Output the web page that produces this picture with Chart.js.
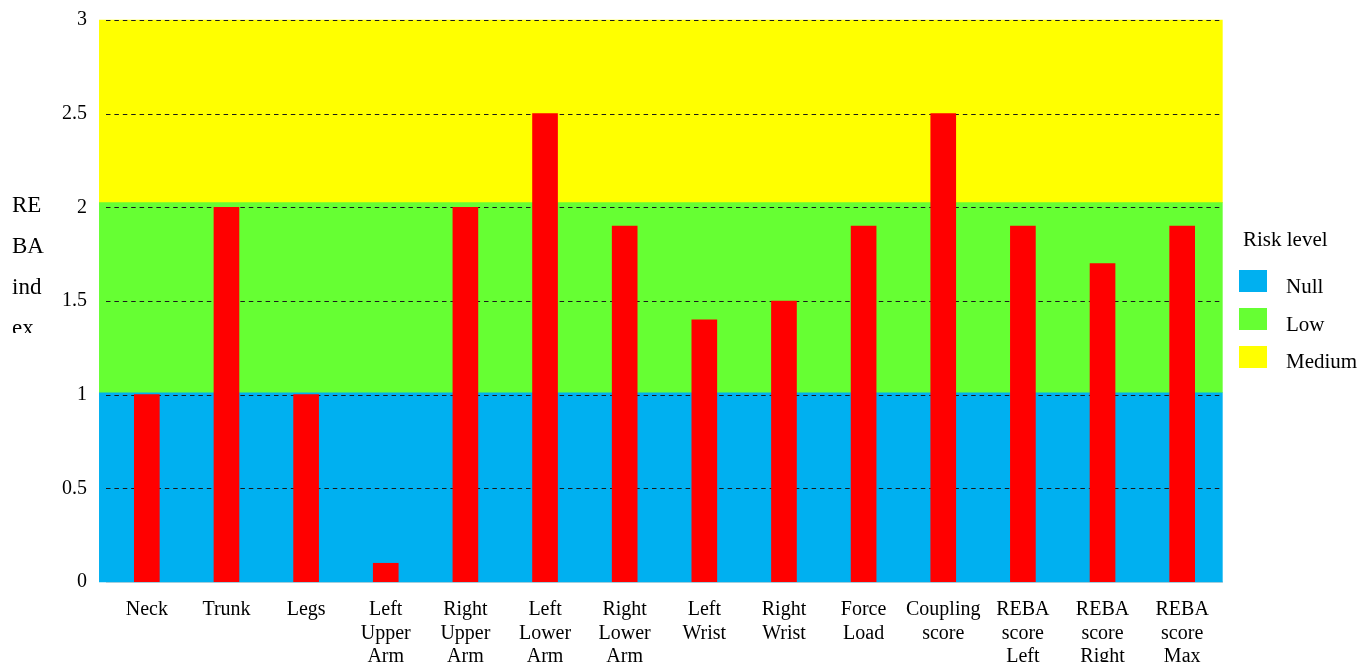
<!DOCTYPE html>
<html>
<head>
<meta charset="utf-8">
<title>REBA index</title>
<script src="https://cdn.jsdelivr.net/npm/chart.js@4.4.1/dist/chart.umd.min.js"></script>
<style>
  html, body { margin: 0; padding: 0; background: #fff; }
  #wrap { width: 1360px; height: 662px; }
</style>
</head>
<body>
<div id="wrap"><canvas id="rebaChart" width="1360" height="662"></canvas></div>
<script>
// body segments on the category axis (multi-line labels)
const segments = [
  ['Neck'], ['Trunk'], ['Legs'],
  ['Left', 'Upper', 'Arm'], ['Right', 'Upper', 'Arm'],
  ['Left', 'Lower', 'Arm'], ['Right', 'Lower', 'Arm'],
  ['Left', 'Wrist'], ['Right', 'Wrist'],
  ['Force', 'Load'], ['Coupling', 'score'],
  ['REBA', 'score', 'Left'], ['REBA', 'score', 'Right'], ['REBA', 'score', 'Max']
];
const scores = [1, 2, 1, 0.1, 2, 2.5, 1.9, 1.4, 1.5, 1.9, 2.5, 1.9, 1.7, 1.9];

// risk level bands in the background
const riskLevels = ['Null', 'Low', 'Medium'];
const riskFrom = [0, 1.01, 2.025];
const riskTo = [1.01, 2.025, 3];
const riskColors = ['#00B0F0', '#66FF33', '#FFFF00'];

const yMin = 0, yMax = 3, yStep = 0.5;
const yTitleLines = ['RE', 'BA', 'ind', 'ex'];
const legendTitle = 'Risk level';

const FONT = '"Liberation Serif", "Times New Roman", serif';

const datasets = [{
  label: 'REBA index',
  data: scores,
  xAxisID: 'x',
  backgroundColor: '#FF0000',
  borderWidth: 0,
  grouped: false,
  barThickness: 25
}];
riskLevels.forEach(function (name, i) {
  datasets.push({
    label: name,
    // bands sit on a hidden linear axis so they can run a bit left of the category area
    data: [{ x: 0.4964, y: [riskFrom[i], riskTo[i]] }],
    xAxisID: 'x2',
    backgroundColor: riskColors[i],
    borderWidth: 0,
    grouped: false,
    barThickness: 1123,
    clip: false
  });
});

// dashed lines go over the bands but under the red bars
const dashedGrid = {
  id: 'dashedGrid',
  afterDatasetDraw(chart, args) {
    if (args.index !== 1) return;
    const ctx = chart.ctx, area = chart.chartArea, y = chart.scales.y;
    ctx.save();
    ctx.strokeStyle = '#1a1a1a';
    ctx.lineWidth = 1;
    ctx.setLineDash([4.5, 3.9]);
    y.ticks.forEach(function (t) {
      if (t.value === yMin) return;
      const py = Math.round(y.getPixelForValue(t.value)) + 0.5;
      ctx.beginPath();
      ctx.moveTo(area.left - 1, py);
      ctx.lineTo(area.right, py);
      ctx.stroke();
    });
    ctx.restore();
  }
};

// the y title wraps and gets cut off in the original
const yTitle = {
  id: 'yTitle',
  afterDraw(chart) {
    const ctx = chart.ctx;
    ctx.save();
    ctx.beginPath();
    ctx.rect(0, 0, 60, 333);
    ctx.clip();
    ctx.fillStyle = '#000';
    ctx.font = '23px ' + FONT;
    ctx.textAlign = 'left';
    ctx.textBaseline = 'alphabetic';
    yTitleLines.forEach(function (s, i) {
      ctx.fillText(s, 12, 212 + i * 41);
    });
    ctx.restore();
  }
};

const riskLegend = {
  id: 'riskLegend',
  afterDraw(chart) {
    const ctx = chart.ctx;
    ctx.save();
    ctx.fillStyle = '#000';
    ctx.font = '21px ' + FONT;
    ctx.textAlign = 'left';
    ctx.textBaseline = 'alphabetic';
    ctx.fillText(legendTitle, 1243, 246);
    chart.data.datasets.slice(1).forEach(function (ds, i) {
      ctx.fillStyle = ds.backgroundColor;
      ctx.fillRect(1239, 270 + i * 38, 28, 22);
      ctx.fillStyle = '#000';
      ctx.fillText(ds.label, 1286, 293 + i * 37.5);
    });
    ctx.restore();
  }
};

new Chart(document.getElementById('rebaChart'), {
  type: 'bar',
  data: { labels: segments, datasets: datasets },
  options: {
    responsive: false,
    animation: false,
    layout: { padding: { top: 20, right: 138, bottom: 0, left: 0 } },
    plugins: {
      legend: { display: false },
      tooltip: { enabled: false }
    },
    scales: {
      x: {
        type: 'category',
        offset: true,
        grid: { display: false, drawTicks: false },
        border: { display: true, color: '#d9d9d9', width: 2 },
        ticks: {
          color: '#000',
          font: { family: FONT, size: 20, lineHeight: 1.175 },
          padding: 16,
          autoSkip: false,
          maxRotation: 0
        },
        afterFit: function (s) { s.height = 80; }
      },
      x2: {
        type: 'linear',
        display: false,
        min: 0,
        max: 1
      },
      y: {
        min: yMin,
        max: yMax,
        grid: { display: false, drawTicks: false },
        border: { display: false },
        ticks: {
          stepSize: yStep,
          color: '#000',
          font: { family: FONT, size: 20 },
          padding: 20,
          callback: function (v) { return String(v); }
        },
        afterFit: function (s) {
          s.width = 107;
          s.paddingTop = 0;
          s.paddingBottom = 0;
        }
      }
    }
  },
  plugins: [dashedGrid, yTitle, riskLegend]
});
</script>
</body>
</html>
